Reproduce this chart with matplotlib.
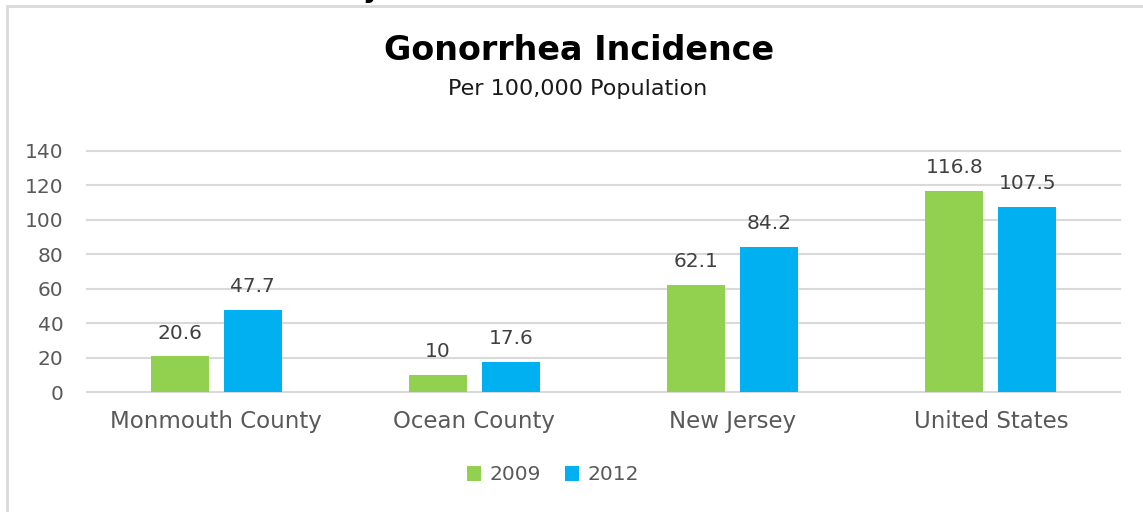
import matplotlib
matplotlib.use("Agg")
import matplotlib.pyplot as plt
from matplotlib.patches import Rectangle
import numpy as np

categories = ["Monmouth County", "Ocean County", "New Jersey", "United States"]
series_names = ["2009", "2012"]
values_2009 = [20.6, 10, 62.1, 116.8]
values_2012 = [47.7, 17.6, 84.2, 107.5]
yticks = [0, 20, 40, 60, 80, 100, 120, 140]

GREEN = "#92D050"
BLUE = "#00B0F0"
GRID = "#D9D9D9"
TXT = "#595959"

W, H = 1143, 512
fig = plt.figure(figsize=(W / 100, H / 100), dpi=100)
plt.rcParams["font.family"] = ["DejaVu Sans"]

# outer chart border (partially cropped)
fig.patches.append(Rectangle((7 / W, -0.1), 1.2, 1 - 6 / H + 0.1, transform=fig.transFigure,
                             fill=False, edgecolor=GRID, linewidth=2))
# cropped descender from text above the chart
fig.text(372 / W, 1 + 3 / H, "y", fontsize=20, fontweight="bold", color="black",
         ha="center", va="baseline")

ax = fig.add_axes([87 / W, 1 - 392 / H, (1120 - 87) / W, (392 - 150.7) / H])
x = np.arange(len(categories))
bw = 0.225
off = (bw + 0.058) / 2
b1 = ax.bar(x - off, values_2009, bw, color=GREEN, label=series_names[0], zorder=3)
b2 = ax.bar(x + off, values_2012, bw, color=BLUE, label=series_names[1], zorder=3)

for bars, vals in ((b1, values_2009), (b2, values_2012)):
    for rect, v in zip(bars, vals):
        ax.annotate(f"{v:g}", (rect.get_x() + rect.get_width() / 2, v), xytext=(0, 10),
                    textcoords="offset points", ha="center", va="bottom",
                    fontsize=14.5, color="#404040")

ax.set_xlim(-0.5, len(categories) - 0.5)
ax.set_ylim(0, 140)
ax.set_yticks(yticks)
ax.set_yticklabels([str(t) for t in yticks])
ax.set_xticks(x)
ax.set_xticklabels(categories)
ax.tick_params(axis="y", length=0, labelsize=14.5, labelcolor=TXT, pad=17)
ax.tick_params(axis="x", length=0, labelsize=16.5, labelcolor=TXT, pad=13)
ax.grid(axis="y", color=GRID, linewidth=1.5, zorder=0)
for gl in ax.yaxis.get_gridlines():
    gl.set_clip_on(False)
for s in ax.spines.values():
    s.set_visible(False)

fig.text(579 / W, 1 - 50 / H, "Gonorrhea Incidence", fontsize=24, fontweight="bold",
         ha="center", va="center", color="black")
fig.text(578 / W, 1 - 89 / H, "Per 100,000 Population", fontsize=16,
         ha="center", va="center", color="#1a1a1a")

fig.legend(handles=[b1, b2], labels=series_names, loc="center", bbox_to_anchor=(553 / W, 1 - 475 / H),
           ncol=2, frameon=False, fontsize=14.5, labelcolor=TXT, handlelength=0.7, handleheight=0.7,
           handletextpad=0.4, columnspacing=1.2)

fig.savefig("out.png", dpi=100)
